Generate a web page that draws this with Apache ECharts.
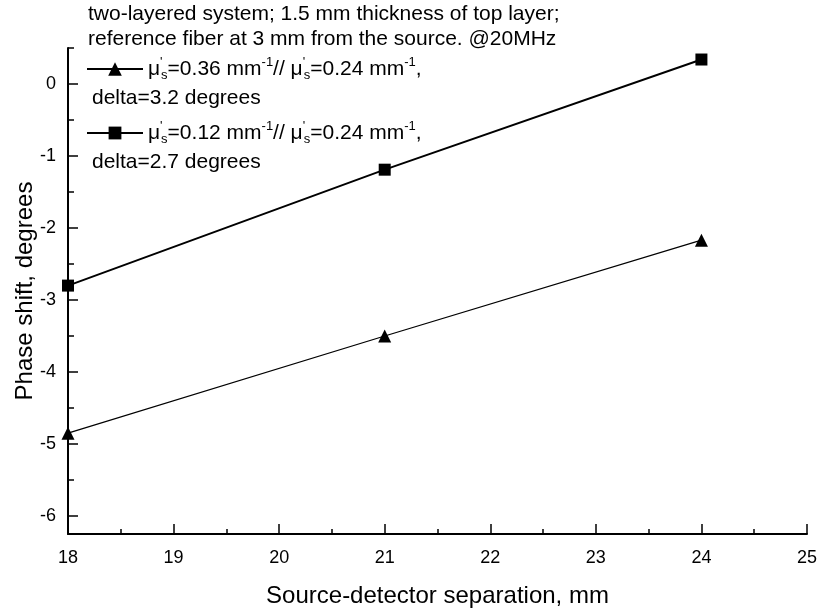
<!DOCTYPE html>
<html>
<head>
<meta charset="UTF-8">
<title>Phase shift vs separation</title>
<style type="text/css">
	* { margin: 0; padding: 0; }
	#chart { width: 820px; height: 613px; background: #fff; }
</style>
</head>
<body>
<div id="chart"></div>
<script src="https://cdn.jsdelivr.net/npm/echarts@6/dist/echarts.min.js"></script>
<script type="text/javascript">
	// source-detector separation, mm
	var separation = [18, 21, 24];
	// phase shift, degrees
	var highScatter = [-4.85, -3.5, -2.17];   // triangles
	var lowScatter = [-2.80, -1.19, 0.34];    // squares
	var yMajor = [-6, -5, -4, -3, -2, -1, 0];
	var yMinor = [-5.5, -4.5, -3.5, -2.5, -1.5, -0.5, 0.5];
	var nameHigh = 'mu036';
	var nameLow = 'mu012';

	var FONT = 'Liberation Sans, Arial, sans-serif';

	function pairs(xs, ys) {
		var out = [];
		for (var i = 0; i < xs.length; i++) {
			out.push([xs[i], ys[i]]);
		}
		return out;
	}

	var rich = {
		t: { fontSize: 21, fontFamily: FONT, color: '#000', lineHeight: 26 },
		pr: { fontSize: 13, fontFamily: FONT, color: '#000', verticalAlign: 'top', lineHeight: 13, width: 1 },
		sb: { fontSize: 13, fontFamily: FONT, color: '#000', verticalAlign: 'bottom', lineHeight: 13 },
		sp: { fontSize: 13, fontFamily: FONT, color: '#000', verticalAlign: 'top', lineHeight: 13 }
	};

	function legendText(v1, v2) {
		return '{t|\u03bc}{pr|\'}{sb|s}{t|=' + v1 + ' mm}{sp|-1}{t|// \u03bc}{pr|\'}{sb|s}{t|=' + v2 + ' mm}{sp|-1}{t|,}';
	}

	var chart = echarts.init(document.getElementById('chart'));

	var axisLine = { show: true, onZero: false, lineStyle: { color: '#000', width: 2 } };

	chart.setOption({
		animation: false,
		backgroundColor: '#fff',
		textStyle: { fontFamily: FONT },
		grid: { left: 68, right: 13, top: 48, bottom: 76, containLabel: false },
		legend: [{
			data: [nameHigh],
			left: 86, top: 56, padding: 0,
			itemWidth: 56, itemHeight: 17, itemGap: 0,
			formatter: function () { return legendText('0.36', '0.24'); },
			textStyle: { rich: rich }
		}, {
			data: [nameLow],
			left: 86, top: 120, padding: 0,
			itemWidth: 56, itemHeight: 16, itemGap: 0,
			formatter: function () { return legendText('0.12', '0.24'); },
			textStyle: { rich: rich }
		}],
		graphic: [
			{ type: 'text', left: 88, top: 4, style: { text: 'two-layered system; 1.5 mm thickness of top layer;', font: '21px ' + FONT, fill: '#000' } },
			{ type: 'text', left: 88, top: 29, style: { text: 'reference fiber at 3 mm from the source. @20MHz', font: '21px ' + FONT, fill: '#000' } },
			{ type: 'text', left: 92, top: 88, style: { text: 'delta=3.2 degrees', font: '21px ' + FONT, fill: '#000' } },
			{ type: 'text', left: 92, top: 152, style: { text: 'delta=2.7 degrees', font: '21px ' + FONT, fill: '#000' } }
		],
		xAxis: {
			type: 'value',
			min: 18, max: 25, interval: 1,
			name: 'Source-detector separation, mm',
			nameLocation: 'middle', nameGap: 50,
			nameTextStyle: { fontSize: 24, color: '#000', fontFamily: FONT },
			axisLine: axisLine,
			axisTick: { show: true, inside: true, length: 10, lineStyle: { color: '#000', width: 1.5 } },
			minorTick: { show: true, splitNumber: 2, length: 5, lineStyle: { color: '#000', width: 1.5 } },
			axisLabel: { fontSize: 18, color: '#000', margin: 15, fontFamily: FONT },
			splitLine: { show: false },
			minorSplitLine: { show: false }
		},
		yAxis: [{
			type: 'value',
			min: -6.25, max: 0.5,
			name: 'Phase shift, degrees',
			nameLocation: 'middle', nameGap: 31, nameRotate: 90,
			nameMoveOverlap: false,
			nameTextStyle: { fontSize: 24, color: '#000', fontFamily: FONT },
			axisLine: axisLine,
			axisTick: { show: true, inside: true, length: 10, customValues: yMajor, lineStyle: { color: '#000', width: 1.5 } },
			axisLabel: { fontSize: 18, color: '#000', margin: 12, customValues: yMajor, fontFamily: FONT },
			splitLine: { show: false }
		}, {
			type: 'value',
			min: -6.25, max: 0.5,
			position: 'left',
			axisLine: { show: false, onZero: false },
			axisTick: { show: true, inside: true, length: 6, customValues: yMinor, lineStyle: { color: '#000', width: 1.5 } },
			axisLabel: { show: false, customValues: yMinor },
			splitLine: { show: false }
		}],
		series: [{
			name: nameHigh,
			type: 'line',
			data: pairs(separation, highScatter),
			symbol: 'triangle', symbolSize: 13,
			clip: false,
			lineStyle: { color: '#000', width: 1.3 },
			itemStyle: { color: '#000' }
		}, {
			name: nameLow,
			type: 'line',
			data: pairs(separation, lowScatter),
			symbol: 'rect', symbolSize: 12,
			clip: false,
			lineStyle: { color: '#000', width: 2 },
			itemStyle: { color: '#000' }
		}]
	});
</script>
</body>
</html>
